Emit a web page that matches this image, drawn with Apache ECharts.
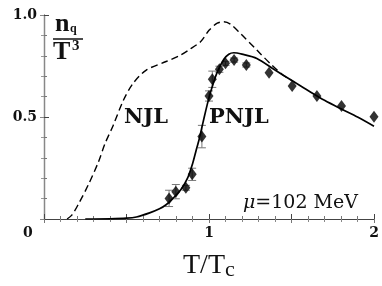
<!DOCTYPE html>
<html><head><meta charset="utf-8">
<script src="https://cdn.jsdelivr.net/npm/echarts@6/dist/echarts.min.js"></script>
<style>html,body{margin:0;padding:0;background:#fff}#c{width:382px;height:286px}</style>
</head><body><div id="c"></div>
<script>
// PNJL model curve (solid)
const pnjl = [[0.25,0],[0.4,0.001],[0.5,0.004],[0.56,0.01],[0.64,0.03],[0.7,0.05],[0.74,0.07],[0.78,0.1],[0.83,0.145],[0.87,0.2],[0.9,0.27],[0.92,0.33],[0.94,0.39],[0.96,0.46],[0.98,0.53],[1.0,0.595],[1.02,0.65],[1.05,0.72],[1.09,0.783],[1.12,0.808],[1.15,0.815],[1.2,0.808],[1.29,0.787],[1.4,0.73],[1.5,0.68],[1.6,0.63],[1.7,0.582],[1.8,0.54],[1.9,0.5],[2.0,0.455]];
// NJL model curve (dashed)
const njl = [[0.14,0],[0.17,0.02],[0.21,0.075],[0.27,0.17],[0.33,0.28],[0.37,0.37],[0.42,0.46],[0.48,0.58],[0.54,0.665],[0.62,0.73],[0.74,0.772],[0.82,0.8],[0.88,0.83],[0.95,0.87],[1.0,0.925],[1.05,0.96],[1.09,0.967],[1.13,0.955],[1.19,0.91],[1.29,0.828],[1.38,0.755],[1.45,0.705],[1.5,0.68]];
// Lattice data: T/Tc, n_q/T^3, error
const latX = [0.758,0.799,0.86,0.898,0.957,1.0,1.02,1.063,1.10,1.152,1.226,1.364,1.504,1.654,1.803,2.0];
const latY = [0.101,0.134,0.153,0.219,0.404,0.603,0.685,0.734,0.763,0.779,0.755,0.717,0.652,0.603,0.554,0.501];
const latE = [0.04,0.035,0.012,0.03,0.055,0.025,0.04,0.015,0.01,0.01,0.01,0,0,0,0,0];
const xTicks = ['0','1','2'];
const yTicks = ['0.5','1.0'];

const serif = 'Liberation Serif';
const dserif = 'DejaVu Serif';
const pts = latX.map((x,i)=>[x,latY[i]]);
const errs = latX.map((x,i)=>[x,latY[i]-latE[i],latY[i]+latE[i]]);
const axisCol = '#444';
const chart = echarts.init(document.getElementById('c'));
chart.setOption({
  animation:false,
  grid:{left:44,right:8,top:15,bottom:67},
  xAxis:[{type:'value',min:0,max:2,interval:0.5,
    axisLine:{lineStyle:{color:axisCol,width:1.2}},
    axisTick:{inside:true,length:5,lineStyle:{color:axisCol}},
    minorTick:{show:true,splitNumber:5,length:3,lineStyle:{color:'#777'}},
    splitLine:{show:false},
    axisLabel:{margin:7,fontFamily:dserif,fontWeight:'bold',fontSize:14,color:'#111',
      formatter:v=> (v===1?xTicks[1]:(v===2?xTicks[2]:''))}
  },{type:'value',min:0,max:2,interval:0.5,position:'top',
    axisLine:{lineStyle:{color:axisCol,width:1.2}},
    axisTick:{inside:true,length:4,lineStyle:{color:'#777'}},
    minorTick:{show:true,splitNumber:5,length:3,lineStyle:{color:'#888'}},
    axisLabel:{show:false},splitLine:{show:false}}],
  yAxis:[{type:'value',min:0,max:1,interval:0.5,
    axisLine:{show:true,lineStyle:{color:axisCol,width:1.2}},
    axisTick:{inside:true,length:5,lineStyle:{color:axisCol}},
    minorTick:{show:true,splitNumber:5,length:3,lineStyle:{color:'#777'}},
    splitLine:{show:false},
    axisLabel:{margin:7,fontFamily:dserif,fontWeight:'bold',fontSize:14,color:'#111',
      formatter:v=> (v===0.5?yTicks[0]:(v===1?yTicks[1]:''))}
  },{type:'value',min:0,max:1,interval:0.5,position:'right',
    axisLine:{show:true,lineStyle:{color:'#888',width:1.2}},
    axisTick:{inside:true,length:4,lineStyle:{color:'#888'}},
    minorTick:{show:true,splitNumber:5,length:3,lineStyle:{color:'#999'}},
    axisLabel:{show:false},splitLine:{show:false}}],
  series:[
    {type:'line',data:njl,smooth:0.3,symbol:'none',lineStyle:{color:'#000',width:1.4,type:[7,4]}},
    {type:'line',data:pnjl,smooth:0.3,symbol:'none',lineStyle:{color:'#000',width:1.7}},
    {type:'custom',data:errs,clip:false,z:3,renderItem:(params,api)=>{
      const x=api.value(0), lo=api.coord([x,api.value(1)]), hi=api.coord([x,api.value(2)]);
      if (Math.abs(lo[1]-hi[1])<1) return null;
      const w=4, st={stroke:'#777',lineWidth:1};
      return {type:'group',children:[
        {type:'line',shape:{x1:lo[0],y1:lo[1],x2:hi[0],y2:hi[1]},style:st},
        {type:'line',shape:{x1:lo[0]-w,y1:lo[1],x2:lo[0]+w,y2:lo[1]},style:st},
        {type:'line',shape:{x1:hi[0]-w,y1:hi[1],x2:hi[0]+w,y2:hi[1]},style:st}]};
    }},
    {type:'scatter',data:pts,symbol:'diamond',symbolSize:[9,12],clip:false,z:4,itemStyle:{color:'#000'}}
  ],
  graphic:[
    {type:'text',left:23,top:226,style:{text:'0',font:'bold 14px "DejaVu Serif"',fill:'#111'}},
    {type:'text',left:124,top:107,style:{text:'NJL',font:'bold 21px "DejaVu Serif"',fill:'#111'}},
    {type:'text',left:209,top:107,style:{text:'PNJL',font:'bold 21px "DejaVu Serif"',fill:'#111'}},
    {type:'text',left:243,top:194,style:{rich:{m:{fontFamily:dserif,fontStyle:'italic',fontSize:19,fill:'#111'},t:{fontFamily:dserif,fontSize:19,fill:'#111'}},text:'{m|μ}{t|=102 MeV}'}},
    {type:'text',left:55,top:11,style:{text:'n',font:'bold 26px "Liberation Serif"',fill:'#111'}},
    {type:'text',left:70,top:23,style:{text:'q',font:'bold 12px "Liberation Serif"',fill:'#111'}},
    {type:'line',shape:{x1:53,y1:39,x2:83,y2:39},style:{stroke:'#111',lineWidth:1.5}},
    {type:'text',left:53,top:39,style:{text:'T',font:'bold 26px "Liberation Serif"',fill:'#111'}},
    {type:'text',left:72,top:39,style:{text:'3',font:'bold 15px "Liberation Serif"',fill:'#111'}},
    {type:'text',left:183,top:252,style:{text:'T/T',font:'28px "Liberation Serif"',fill:'#111'}},
    {type:'text',left:225,top:259,style:{text:'c',font:'22px "Liberation Serif"',fill:'#111'}}
  ]
});
</script></body></html>
